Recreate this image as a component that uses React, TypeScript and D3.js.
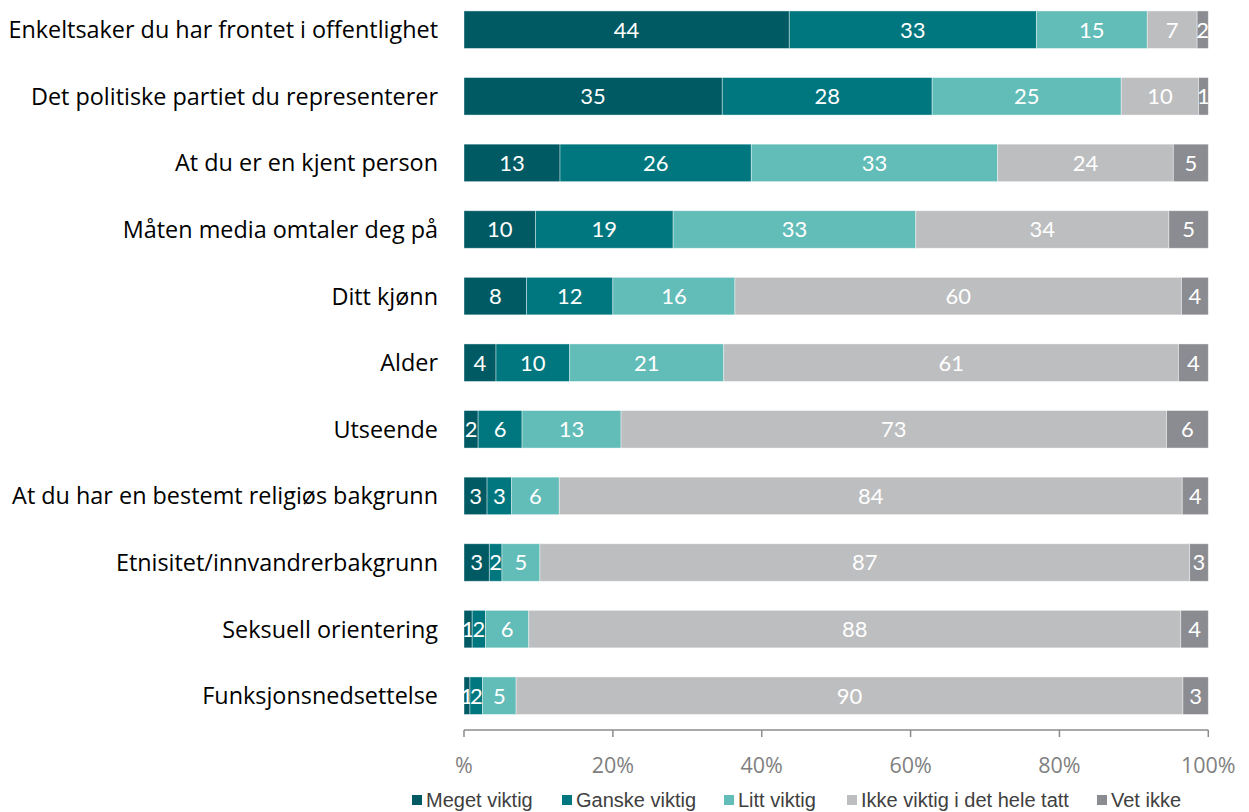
import React from "react";
import * as d3 from "d3";

const categories = [
  "Enkeltsaker du har frontet i offentlighet",
  "Det politiske partiet du representerer",
  "At du er en kjent person",
  "Måten media omtaler deg på",
  "Ditt kjønn",
  "Alder",
  "Utseende",
  "At du har en bestemt religiøs bakgrunn",
  "Etnisitet/innvandrerbakgrunn",
  "Seksuell orientering",
  "Funksjonsnedsettelse",
];

const seriesNames = ["Meget viktig", "Ganske viktig", "Litt viktig", "Ikke viktig i det hele tatt", "Vet ikke"];
const seriesColors = ["#005a64", "#00777f", "#62bcb8", "#bdbec0", "#8a8c91"];

const megetViktig = [43.7, 34.7, 12.9, 9.6, 8.4, 4.3, 1.9, 3.1, 3.4, 1.1, 0.8];
const ganskeViktig = [33.2, 28.2, 25.7, 18.5, 11.6, 9.9, 5.9, 3.3, 1.7, 1.8, 1.7];
const littViktig = [14.9, 25.4, 33.1, 32.6, 16.4, 20.7, 13.3, 6.4, 5.1, 5.8, 4.5];
const ikkeViktig = [6.7, 10.4, 23.6, 34.0, 60.0, 61.1, 73.3, 83.7, 87.3, 87.6, 89.6];
const vetIkke = [1.5, 1.3, 4.7, 5.3, 3.6, 4.0, 5.6, 3.5, 2.5, 3.7, 3.4];

const tickValues = [0, 20, 40, 60, 80, 100];
const tickLabels = ["%", "20%", "40%", "60%", "80%", "100%"];

const seriesValues = [megetViktig, ganskeViktig, littViktig, ikkeViktig, vetIkke];

export default function App() {
  const width = 1249;
  const height = 812;
  const x = d3.scaleLinear().domain([0, 100]).range([464, 1208.3]);
  const y = d3
    .scaleBand<string>()
    .domain(categories)
    .range([-3.6, 729])
    .paddingInner(0.437)
    .paddingOuter(0.2185);

  const rows = categories.map((c, i) => {
    const vals = seriesValues.map((s) => s[i]);
    let acc = 0;
    return vals.map((v, k) => {
      const seg = { cat: c, k, v, x0: acc, x1: acc + v };
      acc += v;
      return seg;
    });
  });

  const barFont = "Lato, 'Open Sans', sans-serif";
  const catFont = "'Open Sans', Lato, sans-serif";
  const legendItems = [
    { x: 412, label: seriesNames[0] },
    { x: 562, label: seriesNames[1] },
    { x: 724, label: seriesNames[2] },
    { x: 847, label: seriesNames[3] },
    { x: 1097, label: seriesNames[4] },
  ];
  const axisY = 730;

  return (
    <svg
      width={width}
      height={height}
      style={{ position: "absolute", left: 0, top: 0, background: "#fff" }}
    >
      {rows.map((segs, i) =>
        segs.map((s) => (
          <g key={`${i}-${s.k}`}>
            <rect
              x={x(s.x0)}
              y={y(s.cat)}
              width={x(s.x1) - x(s.x0)}
              height={y.bandwidth()}
              fill={seriesColors[s.k]}
              stroke="#ffffff"
              strokeOpacity={0.5}
              strokeWidth={0.8}
            />
            <text
              x={(x(s.x0) + x(s.x1)) / 2}
              y={(y(s.cat) as number) + y.bandwidth() / 2}
              dy="0.36em"
              textAnchor="middle"
              fill="#ffffff"
              fontFamily={barFont}
              fontSize={22}
            >
              {Math.round(s.v)}
            </text>
          </g>
        ))
      )}
      {categories.map((c) => (
        <text
          key={c}
          x={438}
          y={(y(c) as number) + y.bandwidth() / 2}
          dy="0.36em"
          textAnchor="end"
          fill="#000"
          fontFamily={catFont}
          fontSize={23.4}
        >
          {c}
        </text>
      ))}
      <line x1={x(0)} x2={x(100)} y1={axisY} y2={axisY} stroke="#8c8c8c" strokeWidth={1.5} />
      {tickValues.map((t, i) => (
        <g key={t}>
          <line x1={x(t)} x2={x(t)} y1={axisY} y2={axisY + 7} stroke="#8c8c8c" strokeWidth={1.5} />
          <text
            x={x(t)}
            y={765}
            dy="0.36em"
            textAnchor="middle"
            fill="#7f7f7f"
            fontFamily={catFont}
            fontSize={21.5}
          >
            {tickLabels[i]}
          </text>
        </g>
      ))}
      {legendItems.map((l, i) => (
        <g key={l.label}>
          <rect x={l.x} y={795} width={10} height={10} fill={seriesColors[i]} />
          <text
            x={l.x + 14}
            y={800}
            dy="0.36em"
            fill="#404040"
            fontFamily="'Liberation Sans Narrow', 'Arial Narrow', sans-serif"
            fontSize={20}
          >
            {l.label}
          </text>
        </g>
      ))}
    </svg>
  );
}
